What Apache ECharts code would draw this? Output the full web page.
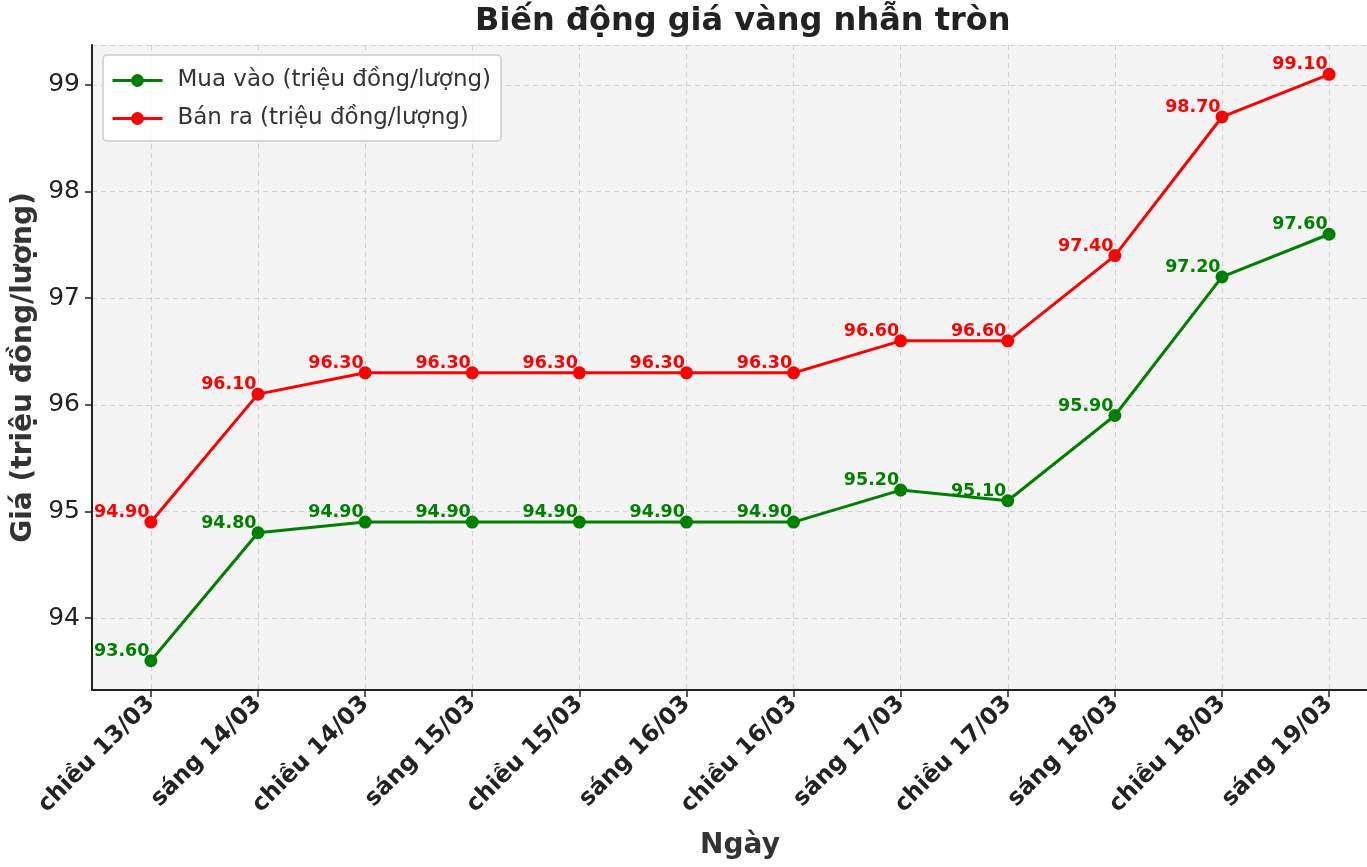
<!DOCTYPE html>
<html>
<head>
<meta charset="utf-8">
<script src="https://cdn.jsdelivr.net/npm/echarts@6/dist/echarts.min.js"></script>
<style>
  html, body { margin: 0; padding: 0; background: #fff; }
  #main { width: 1367px; height: 867px; }
</style>
</head>
<body>
<div id="main"></div>
<script>
// du lieu doc tu hinh
var categories = ['chiều 13/03', 'sáng 14/03', 'chiều 14/03', 'sáng 15/03', 'chiều 15/03', 'sáng 16/03',
                  'chiều 16/03', 'sáng 17/03', 'chiều 17/03', 'sáng 18/03', 'chiều 18/03', 'sáng 19/03'];
var muaVao = [93.6, 94.8, 94.9, 94.9, 94.9, 94.9, 94.9, 95.2, 95.1, 95.9, 97.2, 97.6];
var banRa = [94.9, 96.1, 96.3, 96.3, 96.3, 96.3, 96.3, 96.6, 96.6, 97.4, 98.7, 99.1];

var fontName = 'DejaVu Sans';

function toPairs(arr) {
    return arr.map(function (v, i) { return [i, v]; });
}

function makeSeries(name, data, color) {
    return {
        name: name,
        type: 'line',
        data: toPairs(data),
        symbol: 'circle',
        symbolSize: 13,
        lineStyle: { width: 3, color: color },
        itemStyle: { color: color },
        label: {
            show: true,
            position: [5, 6],
            align: 'right',
            verticalAlign: 'bottom',
            color: color,
            fontFamily: fontName,
            fontWeight: 'bold',
            fontSize: 17.5,
            formatter: function (p) { return p.value[1].toFixed(2); }
        },
        emphasis: { disabled: true },
        animation: false
    };
}

var myChart = echarts.init(document.getElementById('main'));
var option = {
    backgroundColor: '#ffffff',
    textStyle: { fontFamily: fontName },
    title: {
        // canh giua theo vung ve (vung ve tran qua mep phai)
        text: 'Biến động giá vàng nhẫn tròn',
        left: 470,
        top: 1,
        textStyle: { fontSize: 32, fontWeight: 'bold', color: '#222', fontFamily: fontName }
    },
    legend: {
        orient: 'vertical',
        left: 103,
        top: 55,
        itemWidth: 50,
        itemHeight: 16,
        itemGap: 15,
        padding: [14, 10, 11, 8],
        backgroundColor: 'rgba(255,255,255,0.85)',
        borderColor: '#cccccc',
        borderWidth: 1.5,
        borderRadius: 4,
        lineStyle: { width: 3 },
        textStyle: { fontSize: 23, color: '#333', fontFamily: fontName, padding: [0, 0, 0, 10] },
        data: ['Mua vào (triệu đồng/lượng)', 'Bán ra (triệu đồng/lượng)']
    },
    grid: {
        left: 92,
        right: -21,
        top: 45,
        bottom: 177,
        outerBoundsMode: 'none',
        show: true,
        backgroundColor: '#f4f4f4',
        borderWidth: 0
    },
    xAxis: {
        type: 'value',
        min: -0.55,
        max: 11.55,
        minInterval: 1,
        maxInterval: 1,
        name: 'Ngày',
        nameLocation: 'middle',
        nameGap: 142,
        nameTextStyle: { fontSize: 28, fontWeight: 'bold', color: '#333', fontFamily: fontName },
        axisLine: { show: true, onZero: false, lineStyle: { color: '#222', width: 2 } },
        axisTick: { show: true, length: 7, lineStyle: { color: '#222', width: 1.5 } },
        axisLabel: {
            rotate: 45,
            margin: 10,
            fontSize: 23.5,
            fontWeight: 'bold',
            color: '#222',
            fontFamily: fontName,
            showMinLabel: false,
            showMaxLabel: false,
            formatter: function (v) {
                return Number.isInteger(v) && categories[v] ? categories[v] : '';
            }
        },
        splitLine: { show: true, lineStyle: { color: '#d2d2d2', type: [5, 4], width: 1 } }
    },
    yAxis: {
        type: 'value',
        min: 93.325,
        max: 99.375,
        minInterval: 1,
        maxInterval: 1,
        name: 'Giá (triệu đồng/lượng)',
        nameLocation: 'middle',
        nameGap: 51,
        nameTextStyle: { fontSize: 28, fontWeight: 'bold', color: '#333', fontFamily: fontName },
        axisLine: { show: true, onZero: false, lineStyle: { color: '#222', width: 2 } },
        axisTick: { show: true, length: 7, lineStyle: { color: '#222', width: 1.5 } },
        axisLabel: {
            fontSize: 25,
            color: '#222',
            margin: 12,
            fontFamily: fontName,
            showMinLabel: false,
            showMaxLabel: false,
            formatter: function (v) {
                return Number.isInteger(v) ? String(v) : '';
            }
        },
        splitLine: { show: true, lineStyle: { color: '#d2d2d2', type: [5, 4], width: 1 } }
    },
    series: [
        makeSeries('Mua vào (triệu đồng/lượng)', muaVao, '#008000'),
        makeSeries('Bán ra (triệu đồng/lượng)', banRa, '#ff0000')
    ]
};
myChart.setOption(option);
</script>
</body>
</html>
